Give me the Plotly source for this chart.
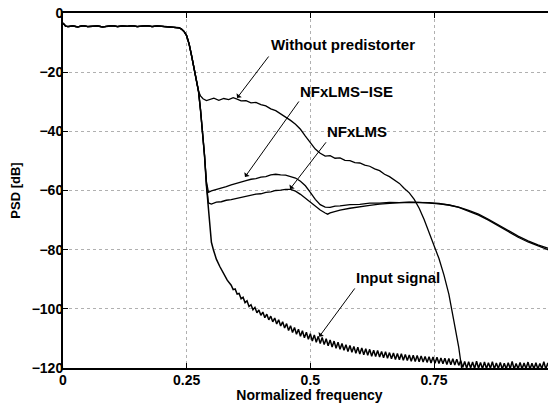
import plotly.graph_objects as go

# ---- shared passband + transition (all four curves coincide here) ----
f_pass = [0.0, 0.005, 0.01, 0.02, 0.03, 0.04, 0.05, 0.06, 0.07, 0.08, 0.09, 0.10, 0.11, 0.12,
          0.13, 0.14, 0.15, 0.16, 0.17, 0.18, 0.19, 0.20, 0.21, 0.22, 0.23, 0.235, 0.24, 0.245,
          0.25, 0.255, 0.26, 0.265, 0.27, 0.274]
psd_pass = [-3.4, -4.4, -4.6, -4.4, -4.7, -4.3, -4.6, -4.5, -4.4, -4.7, -4.5, -4.3, -4.6, -4.4,
            -4.5, -4.3, -4.6, -4.5, -4.3, -4.6, -4.4, -4.5, -4.6, -4.6, -4.8, -5.0, -5.5, -6.3,
            -7.7, -10.5, -14.5, -18.8, -23.0, -26.5]

# ---- Without predistorter ----
f_wo = [0.278, 0.283, 0.29, 0.297, 0.305, 0.315, 0.325, 0.335, 0.344, 0.352, 0.36, 0.37, 0.38,
        0.39, 0.40, 0.41, 0.42, 0.43, 0.44, 0.45, 0.46, 0.47, 0.48, 0.49, 0.50, 0.51, 0.52, 0.53,
        0.54, 0.55, 0.56, 0.57, 0.58, 0.59, 0.60, 0.61, 0.62, 0.63, 0.64, 0.65, 0.66, 0.67, 0.68,
        0.69, 0.70, 0.71, 0.72, 0.73, 0.74, 0.75, 0.76, 0.77, 0.78, 0.79, 0.80, 0.805, 0.81]
psd_wo = [-28.0, -29.0, -29.6, -29.2, -28.8, -29.5, -28.9, -29.3, -28.6, -29.1, -29.7, -29.6,
          -30.4, -30.2, -31.0, -31.4, -32.4, -33.0, -34.1, -35.0, -36.3, -37.6, -39.3, -41.6,
          -43.8, -46.0, -47.4, -48.4, -48.2, -49.1, -49.0, -49.8, -49.9, -50.6, -50.7, -51.4,
          -51.8, -52.7, -53.3, -54.5, -55.3, -56.5, -57.6, -59.3, -60.8, -63.0, -66.0, -69.8,
          -74.0, -78.3, -83.0, -88.5, -95.0, -104.0, -113.0, -119.0, -126.0]

# ---- NFxLMS-ISE ----
f_ise = [0.278, 0.282, 0.286, 0.29, 0.294, 0.30, 0.31, 0.32, 0.33, 0.34, 0.35, 0.36, 0.37, 0.38,
         0.39, 0.40, 0.41, 0.42, 0.43, 0.44, 0.45, 0.46, 0.47, 0.48, 0.49, 0.50, 0.51, 0.52, 0.53,
         0.54, 0.55, 0.56, 0.58, 0.60, 0.62, 0.64, 0.66, 0.68, 0.70, 0.72, 0.74, 0.76, 0.78, 0.80,
         0.82, 0.84, 0.86, 0.88, 0.90, 0.92, 0.94, 0.96, 0.98, 1.0]
psd_ise = [-32.8, -39.5, -48.0, -57.0, -60.6, -60.1, -59.7, -59.1, -58.7, -58.1, -57.7, -57.1,
           -56.7, -56.2, -56.0, -55.5, -55.3, -54.7, -54.5, -54.7, -54.8, -55.3, -55.8, -56.9,
           -58.4, -60.6, -63.0, -64.8, -65.6, -65.7, -65.3, -65.2, -64.8, -64.7, -64.3, -64.3,
           -64.0, -64.1, -63.9, -64.0, -64.2, -64.5, -64.9, -65.6, -66.7, -68.0, -69.7, -71.6,
           -73.6, -75.4, -77.0, -78.4, -79.5, -80.4]

# ---- NFxLMS ----
f_nfx = [0.278, 0.282, 0.286, 0.29, 0.294, 0.30, 0.31, 0.32, 0.33, 0.34, 0.35, 0.36, 0.37, 0.38,
         0.39, 0.40, 0.41, 0.42, 0.43, 0.44, 0.45, 0.46, 0.47, 0.48, 0.49, 0.50, 0.51, 0.52, 0.53,
         0.535, 0.54, 0.55, 0.56, 0.58, 0.60, 0.62, 0.64, 0.66, 0.68, 0.70, 0.72, 0.74, 0.76, 0.78,
         0.80, 0.82, 0.84, 0.86, 0.88, 0.90, 0.92, 0.94, 0.96, 0.98, 1.0]
psd_nfx = [-32.8, -39.5, -48.0, -58.0, -64.2, -64.6, -63.9, -63.8, -63.3, -63.1, -62.7, -62.5,
           -61.9, -61.7, -61.2, -61.1, -60.6, -60.5, -60.0, -59.9, -59.6, -59.6, -60.2, -61.3,
           -62.6, -64.0, -65.4, -66.6, -67.6, -68.0, -67.6, -67.0, -66.6, -66.0, -65.4, -65.0,
           -64.6, -64.3, -64.1, -64.0, -64.0, -64.1, -64.4, -64.9, -65.7, -66.9, -68.3, -70.0,
           -72.0, -74.0, -75.8, -77.4, -78.8, -80.0, -81.0]

# ---- Input signal ----
f_in_head = [0.278, 0.282, 0.286, 0.29, 0.294, 0.297, 0.30, 0.304, 0.31, 0.317, 0.325, 0.332]
psd_in_head = [-32.8, -39.5, -48.0, -58.5, -67.0, -74.0, -77.5, -80.0, -83.2, -85.7, -88.3, -90.3]
f_in_tail = [
    0.340, 0.344, 0.348, 0.352, 0.356, 0.360, 0.364, 0.368, 0.372, 0.376, 0.380, 0.384, 0.388,
    0.392, 0.396, 0.400, 0.404, 0.408, 0.412, 0.416, 0.420, 0.424, 0.428, 0.432, 0.436, 0.440,
    0.444, 0.448, 0.452, 0.456, 0.460, 0.464, 0.468, 0.472, 0.476, 0.480, 0.484, 0.488, 0.492,
    0.496, 0.500, 0.504, 0.508, 0.512, 0.516, 0.520, 0.524, 0.528, 0.532, 0.536, 0.540, 0.544,
    0.548, 0.552, 0.556, 0.560, 0.564, 0.568, 0.572, 0.576, 0.580, 0.584, 0.588, 0.592, 0.596,
    0.600, 0.604, 0.608, 0.612, 0.616, 0.620, 0.624, 0.628, 0.632, 0.636, 0.640, 0.644, 0.648,
    0.652, 0.656, 0.660, 0.664, 0.668, 0.672, 0.676, 0.680, 0.684, 0.688, 0.692, 0.696, 0.700,
    0.704, 0.708, 0.712, 0.716, 0.720, 0.724, 0.728, 0.732, 0.736, 0.740, 0.744, 0.748, 0.752,
    0.756, 0.760, 0.764, 0.768, 0.772, 0.776, 0.780, 0.784, 0.788, 0.792, 0.796, 0.800, 0.804,
    0.808, 0.812, 0.816, 0.820, 0.824, 0.828, 0.832, 0.836, 0.840, 0.844, 0.848, 0.852, 0.856,
    0.860, 0.864, 0.868, 0.872, 0.876, 0.880, 0.884, 0.888, 0.892, 0.896, 0.900, 0.904, 0.908,
    0.912, 0.916, 0.920, 0.924, 0.928, 0.932, 0.936, 0.940, 0.944, 0.948, 0.952, 0.956, 0.960,
    0.964, 0.968, 0.972, 0.976, 0.980, 0.984, 0.988, 0.992, 0.996, 1.000]
psd_in_tail = [
    -92.0, -93.5, -93.3, -95.0, -94.8, -96.6, -96.1, -97.9, -97.3, -99.2, -98.6, -100.3, -99.5,
    -101.3, -100.4, -102.2, -101.1, -103.0, -101.8, -103.7, -102.5, -104.4, -103.1, -105.1, -103.7, -105.8,
    -104.4, -106.5, -105.0, -107.3, -105.7, -108.0, -106.3, -108.6, -106.9, -109.3, -107.4, -109.8, -107.9,
    -110.3, -108.4, -110.9, -108.8, -111.3, -109.3, -111.7, -109.7, -112.1, -110.1, -112.5, -110.5, -112.9,
    -110.9, -113.3, -111.3, -113.7, -111.7, -114.0, -112.1, -114.4, -112.4, -114.7, -112.7, -115.0, -113.0,
    -115.3, -113.2, -115.5, -113.5, -115.7, -113.7, -116.0, -114.0, -116.1, -114.1, -116.3, -114.4, -116.5,
    -114.5, -116.7, -114.8, -116.9, -114.9, -117.1, -115.1, -117.2, -115.2, -117.4, -115.4, -117.5, -115.6,
    -117.7, -115.7, -117.8, -115.8, -117.9, -115.9, -118.0, -116.1, -118.1, -116.2, -118.3, -116.3, -118.4,
    -116.4, -118.5, -116.6, -118.6, -116.7, -118.8, -116.8, -118.9, -116.9, -119.0, -117.0, -119.1, -117.5,
    -119.8, -117.8, -120.1, -117.9, -120.0, -118.0, -120.2, -117.7, -120.1, -118.1, -120.3, -118.0, -120.2,
    -118.2, -120.1, -117.9, -120.3, -118.3, -120.2, -118.1, -120.4, -118.4, -120.3, -118.2, -120.2, -117.8,
    -120.4, -118.5, -120.3, -118.1, -120.4, -118.3, -120.2, -118.0, -120.4, -118.4, -120.3, -118.2, -120.4,
    -118.5, -120.2, -117.9, -120.4, -118.3, -120.3, -118.1, -120.4, -118.4, -120.2]

x_ticks = [0, 0.25, 0.5, 0.75, 1]
x_tick_text = ["0", "0.25", "0.5", "0.75", "1"]
y_ticks = [0, -20, -40, -60, -80, -100, -120]
y_tick_text = ["0", "\u221220", "\u221240", "\u221260", "\u221280", "\u2212100", "\u2212120"]

# annotation labels: (text, text_x, text_y, tail_x, tail_y, head_x, head_y)
labels = [
    ("Without predistorter", 0.567, -10.8, 0.418, -14.2, 0.352, -28.7),
    ("NFxLMS\u2212ISE", 0.573, -26.4, 0.479, -29.4, 0.368, -55.4),
    ("NFxLMS", 0.594, -40.2, 0.534, -43.2, 0.459, -59.5),
    ("Input signal", 0.677, -89.5, 0.592, -92.6, 0.518, -109.4),
]

FONT = dict(size=14, color="black", family="Liberation Sans", weight="bold")
FONT_BIG = dict(FONT, size=15)

fig = go.Figure()
line = dict(color="black", width=1.3)
fig.add_trace(go.Scatter(x=f_pass + f_wo, y=psd_pass + psd_wo, mode="lines", line=line))
fig.add_trace(go.Scatter(x=f_pass + f_ise, y=psd_pass + psd_ise, mode="lines", line=line))
fig.add_trace(go.Scatter(x=f_pass + f_nfx, y=psd_pass + psd_nfx, mode="lines", line=line))
fig.add_trace(go.Scatter(x=f_pass + f_in_head + f_in_tail, y=psd_pass + psd_in_head + psd_in_tail,
                         mode="lines", line=dict(color="black", width=1.5)))

for text, tx, ty, ax_, ay_, hx, hy in labels:
    fig.add_annotation(x=tx, y=ty, text=text, showarrow=False, font=FONT_BIG)
    fig.add_annotation(x=hx, y=hy, ax=ax_, ay=ay_, axref="x", ayref="y", text="",
                       showarrow=True, arrowhead=1, arrowsize=1.1, arrowwidth=1, arrowcolor="black")

axis_common = dict(
    showline=True, linecolor="black", linewidth=2, mirror="ticks",
    ticks="inside", ticklen=5, tickcolor="black", tickwidth=1,
    showgrid=True, gridcolor="#b0b0b0", griddash="dot", gridwidth=1,
    zeroline=False, ticklabeloverflow="allow",
    tickfont=FONT,
)

# the page adds an 8px body margin, so the figure is offset by it
fig.update_layout(
    width=548, height=395,
    margin=dict(l=55, r=0, t=5, b=35),
    paper_bgcolor="white", plot_bgcolor="white",
    showlegend=False,
    font=dict(family="Liberation Sans", color="black", weight="bold"),
)
fig.update_xaxes(range=[0, 0.9966], tickvals=x_ticks, ticktext=x_tick_text,
                 ticklabelstandoff=-2,
                 title=dict(text="Normalized frequency", standoff=0, font=FONT),
                 automargin=False, **axis_common)
fig.update_yaxes(range=[-120, 0], tickvals=y_ticks, ticktext=y_tick_text,
                 ticklabelstandoff=-5,
                 title=dict(text="PSD [dB]", standoff=10, font=dict(FONT, size=13)),
                 automargin=False, **axis_common)

fig.write_html("out.html")
